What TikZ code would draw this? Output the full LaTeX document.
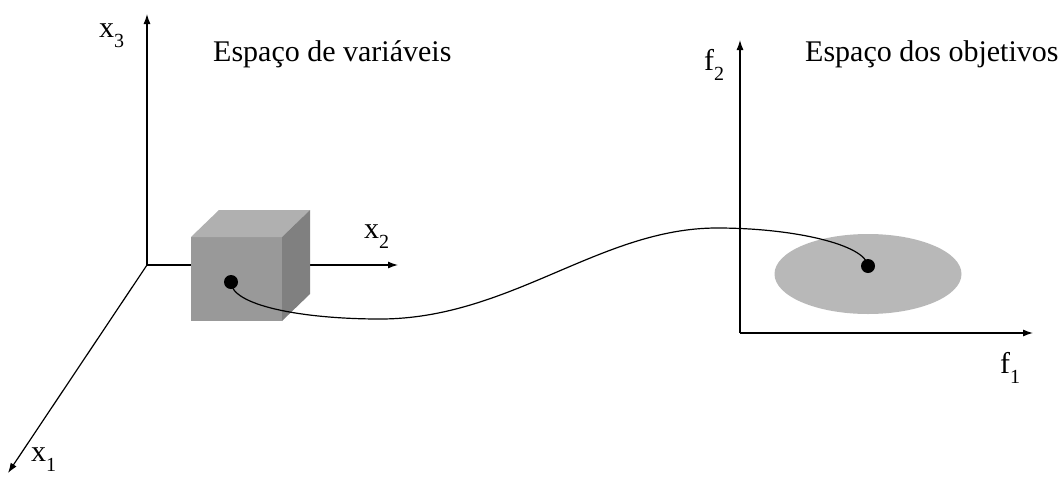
\documentclass[tikz,border=0pt]{standalone}
\usepackage{fontspec}
\setmainfont{Liberation Serif}
\usetikzlibrary{arrows.meta,shapes.geometric}

\definecolor{cubefront}{RGB}{153,153,153}
\definecolor{cubetop}{RGB}{176,176,176}
\definecolor{cubeside}{RGB}{128,128,128}
\definecolor{imagefill}{RGB}{184,184,184}

\newcommand{\axislabel}[2]{#1\raisebox{-10pt}{\fontsize{20}{20}\selectfont #2}}

\tikzset{
  axisline/.style={black, line width=1.2pt, -{Latex[length=10pt,width=7pt]}},
  pointdot/.style={circle, fill=black, inner sep=0pt, minimum size=14pt},
  axistext/.style={anchor=base west, inner sep=0pt, font=\fontsize{30}{30}\selectfont},
}

\begin{document}
\begin{tikzpicture}[x=1pt, y=-1pt]
\useasboundingbox (0,0) rectangle (1062,477);

% espaco de variaveis
\coordinate (o) at (147,265);
\coordinate (x1end) at (8,473);
\coordinate (x2end) at (398,265);
\coordinate (x3end) at (147,14);
\draw[axisline] (o) -- (x1end);
\draw[axisline] (o) -- (x2end);
\draw[axisline] (o) -- (x3end);

% cubo
\fill[cubefront] (191,237) rectangle (282,321);
\fill[cubetop] (191,237) -- (219,210) -- (310,210) -- (282,237) -- cycle;
\fill[cubeside] (282,237) -- (310,210) -- (310,294) -- (282,321) -- cycle;

\node[axistext] (x1lab) at (31,461) {\axislabel{x}{1}};
\node[axistext] (x2lab) at (364,238) {\axislabel{x}{2}};
\node[axistext] (x3lab) at (99,37) {\axislabel{x}{3}};
\node[axistext] (title1) at (213,61) {Espaço de variáveis};

% espaco dos objetivos
\coordinate (p) at (740,333);
\coordinate (f1end) at (1033,333);
\coordinate (f2end) at (740,40);
\draw[axisline] (p) -- (f1end);
\draw[axisline] (p) -- (f2end);

\node[ellipse, fill=imagefill, inner sep=0pt, minimum width=187pt, minimum height=80pt] (image) at (868,274) {};

\node[axistext] (f1lab) at (1000,373) {\axislabel{f}{1}};
\node[axistext] (f2lab) at (704,70) {\axislabel{f}{2}};
\node[axistext] (title2) at (805,61) {Espaço dos objetivos};

% mapeamento
\node[pointdot] (xpt) at (231,282) {};
\node[pointdot] (fpt) at (868,266) {};
\draw[black, line width=1.2pt] (xpt.center) .. controls (231,305) and (300,319) .. (380,319)
  .. controls (510,319) and (600,228) .. (717,228)
  .. controls (795,228) and (866,245) .. (fpt.center);
\end{tikzpicture}
\end{document}
